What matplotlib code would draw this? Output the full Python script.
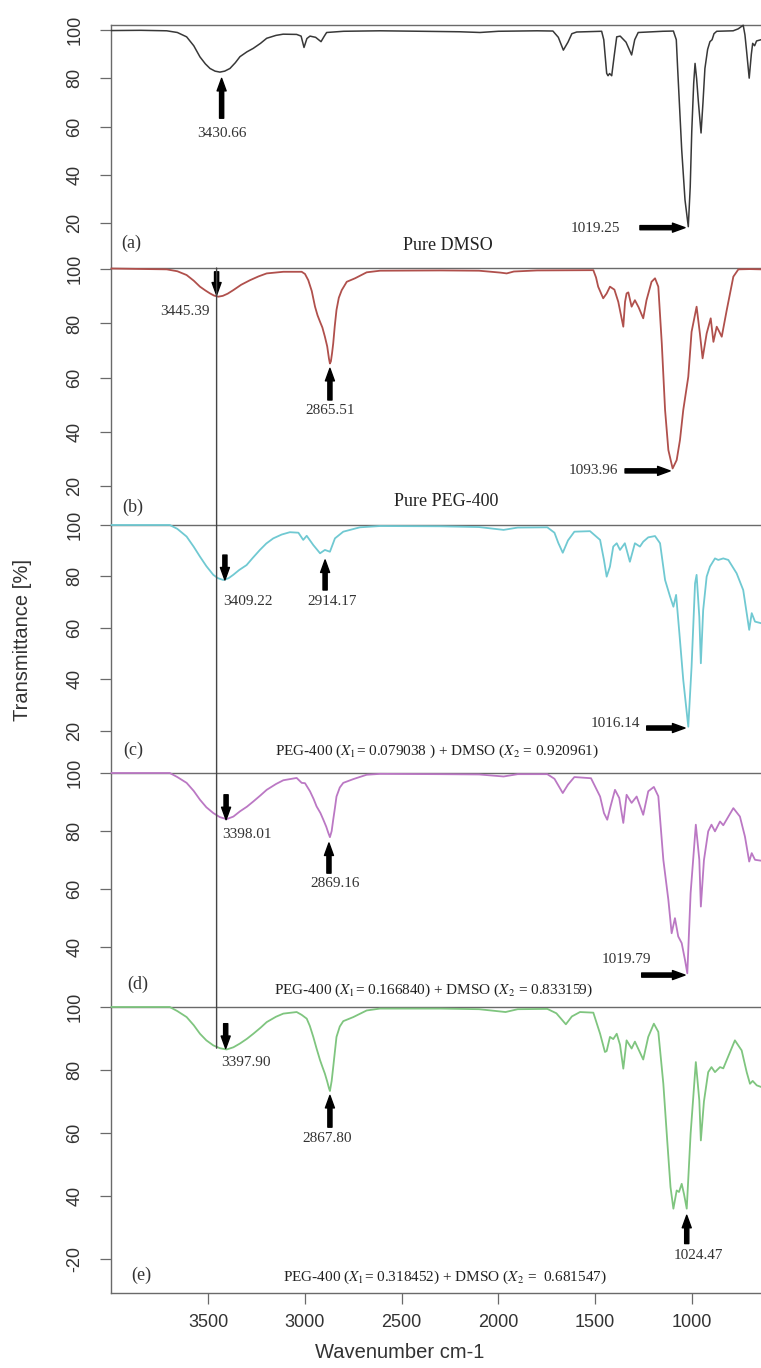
import matplotlib
matplotlib.use('Agg')
import matplotlib.pyplot as plt
from matplotlib.patches import ConnectionPatch

plt.rcParams['mathtext.fontset'] = 'stix'

# ---------------- data ----------------
dmso_wn = [4000, 3850, 3715, 3660, 3612, 3575, 3543, 3515, 3491, 3465, 3440, 3415, 3388, 3360, 3336,
           3300, 3268, 3230, 3198, 3150, 3113, 3043, 3020, 3005,
           2990, 2974, 2945, 2917, 2900, 2888, 2800, 2612, 2400, 2200, 2095, 2000, 1800, 1718, 1690,
           1664, 1640, 1620, 1595, 1466, 1455, 1440, 1433, 1425, 1414, 1400, 1388, 1370, 1340, 1311,
           1295, 1277, 1150, 1095, 1080, 1073, 1052, 1035, 1018, 1008, 1000, 990, 983, 975, 966,
           952, 942, 932, 918, 906, 895, 885, 871, 786, 760, 734, 725, 717, 703, 692, 685, 675, 665, 642]
dmso_t = [99.8, 99.9, 99.7, 99.0, 97.2, 93.5, 88.9, 86.0, 84.1, 83.0, 82.6, 83.0, 84.1, 86.5, 89.0,
          91.0, 92.4, 94.5, 96.6, 97.8, 98.3, 98.2, 97.5, 92.8,
          96.5, 97.5, 97.0, 95.2, 97.5, 99.0, 99.5, 99.7, 99.5, 99.3, 99.0, 99.5, 99.7, 99.6, 97.0,
          91.7, 95.0, 98.5, 99.2, 99.5, 96.0, 82.1, 81.1, 82.0, 81.1, 90.0, 97.2, 97.5, 95.0, 89.7,
          96.0, 99.0, 99.5, 99.6, 96.0, 84.1, 50.4, 29.7, 18.6, 35.0, 58.1, 78.0, 86.2, 80.0, 70.5,
          57.4, 70.0, 84.1, 92.0, 95.2, 96.0, 98.5, 99.5, 99.7, 100.5, 102.0, 98.0, 91.7, 80.1, 90.0,
          94.5, 93.5, 95.5, 96.0]

peg_wn = [4000, 3715, 3660, 3612, 3575, 3543, 3515, 3491, 3470, 3448, 3425, 3400, 3371, 3330, 3284,
          3240, 3198, 3112, 3017, 3000, 2983, 2965, 2948, 2935, 2922, 2910, 2897, 2885, 2876, 2871,
          2866, 2860, 2854, 2846, 2837, 2825, 2810, 2784, 2741, 2681, 2612, 2300, 2100, 1990,
          1957, 1920, 1800, 1509, 1495, 1484, 1458, 1440, 1423, 1400, 1380, 1354, 1345, 1337, 1328,
          1311, 1294, 1275, 1251, 1234, 1208, 1190, 1173, 1155, 1138, 1121, 1099, 1078, 1061, 1044,
          1018, 1001, 975, 958, 944, 923, 902, 888, 871, 858, 845, 819, 785, 759, 700, 642]
peg_t = [100.3, 100.0, 99.3, 97.9, 95.8, 93.6, 92.2, 91.1, 90.3, 89.9, 90.2, 91.0, 92.3, 94.3, 96.0,
         97.4, 98.5, 99.1, 99.1, 98.3, 96.0, 92.0, 86.2, 83.0, 80.6, 78.5, 75.1, 71.5, 67.0, 65.2,
         66.0, 69.0, 72.6, 79.0, 85.0, 89.5, 92.3, 95.4, 96.7, 98.9, 99.5, 99.6, 99.5, 98.8,
         98.5, 99.2, 99.6, 99.7, 97.0, 93.6, 89.3, 91.1, 93.6, 92.5, 88.0, 78.8, 88.0, 91.1, 91.5,
         86.2, 88.6, 86.0, 81.9, 88.6, 95.4, 96.7, 93.6, 72.6, 48.0, 33.2, 26.4, 29.5, 36.9, 48.0,
         60.3, 76.9, 86.2, 76.3, 67.1, 76.3, 81.9, 73.2, 78.8, 77.0, 75.1, 85.0, 97.3, 100.0, 100.1, 100.0]

mix1_wn = [4000, 3699, 3660, 3612, 3575, 3543, 3510, 3474, 3450, 3422, 3395, 3371, 3340, 3302, 3270,
           3233, 3200, 3164, 3120, 3078, 3034, 3009, 2991, 2957,
           2922, 2897, 2871, 2845, 2802, 2716, 2612, 2300, 2100, 1973, 1900, 1747, 1710, 1690, 1667,
           1640, 1607, 1526, 1474, 1454, 1440, 1423, 1406, 1388, 1371, 1346, 1320, 1294, 1268, 1251,
           1225, 1190, 1164, 1138, 1112, 1095, 1081, 1064, 1044, 1018, 1001, 983, 975, 961, 953,
           941, 923, 906, 880, 863, 837, 811, 768, 734, 716, 703, 690, 673, 642]
mix1_t = [100.0, 100.0, 98.5, 95.5, 91.5, 87.7, 84.0, 80.6, 79.3, 78.6, 79.3, 80.6, 82.5, 84.4, 87.2,
          90.3, 92.8, 94.8, 96.3, 97.2, 97.0, 94.2, 95.8, 92.2,
          89.0, 90.3, 89.6, 94.8, 97.4, 99.1, 99.6, 99.5, 99.2, 98.1, 99.0, 99.1, 97.0, 93.0, 89.2,
          94.0, 97.4, 97.6, 94.2, 86.4, 79.9, 83.8, 91.6, 92.9, 90.3, 92.9, 85.7, 92.9, 91.6, 93.5,
          95.2, 95.7, 92.9, 78.6, 72.1, 68.2, 72.8, 57.9, 39.7, 21.5, 44.9, 77.3, 80.6, 64.3, 46.2,
          66.9, 79.9, 83.8, 87.0, 86.4, 87.0, 86.4, 81.2, 74.7, 65.7, 59.2, 65.7, 62.4, 61.8]

mix2_wn = [4000, 3699, 3660, 3612, 3575, 3543, 3510, 3474, 3440, 3405, 3370, 3336, 3300, 3267, 3230,
           3198, 3150, 3112, 3043, 3017, 3000, 2974, 2955, 2940, 2920, 2905, 2890, 2880, 2871, 2862,
           2854, 2845, 2837, 2820, 2802, 2750, 2681, 2612, 2300, 2100, 1973, 1900, 1747, 1710, 1667,
           1640, 1607, 1521, 1474, 1454, 1437, 1420, 1397, 1375, 1354, 1337, 1311, 1285, 1251, 1225,
           1196, 1173, 1147, 1121, 1104, 1087, 1070, 1052, 1035, 1023, 1006, 979, 961, 953, 937,
           915, 898, 880, 854, 837, 785, 751, 725, 703, 690, 673, 642]
mix2_t = [100.0, 100.0, 98.6, 96.6, 93.8, 90.8, 88.2, 86.2, 84.8, 84.1, 85.0, 86.8, 88.4, 90.2, 92.3,
          94.2, 96.2, 97.5, 98.3, 96.6, 96.5, 93.7, 91.0, 88.5, 86.2, 83.9, 81.5, 79.5, 77.9, 80.0,
          83.9, 88.0, 91.9, 95.0, 96.6, 97.9, 99.4, 99.7, 99.6, 99.5, 98.8, 99.6, 99.6, 98.0, 93.1,
          96.0, 98.6, 98.2, 91.9, 86.2, 83.9, 88.5, 94.2, 91.4, 82.8, 92.5, 89.7, 91.9, 85.6, 93.7,
          95.2, 92.0, 70.1, 56.3, 44.8, 50.0, 43.7, 41.4, 35.6, 31.0, 58.6, 82.2, 70.1, 54.0, 70.0,
          79.9, 82.2, 79.9, 83.3, 82.0, 87.9, 85.0, 78.1, 69.5, 72.4, 70.1, 69.8]

mix3_wn = [4000, 3699, 3660, 3612, 3575, 3543, 3510, 3474, 3440, 3405, 3370, 3336, 3300, 3267, 3230,
           3198, 3150, 3112, 3043, 3017, 2991, 2975, 2957, 2940, 2922, 2910, 2897, 2885, 2876, 2871,
           2862, 2854, 2845, 2837, 2820, 2802, 2750, 2681, 2612, 2300, 2100, 1963, 1900, 1747, 1700,
           1651, 1620, 1578, 1509, 1474, 1449, 1440, 1423, 1406, 1388, 1371, 1354, 1337, 1311, 1294,
           1251, 1225, 1196, 1173, 1147, 1127, 1110, 1095, 1078, 1066, 1052, 1040, 1026, 1006, 979,
           961, 953, 937, 915, 898, 880, 854, 837, 777, 742, 716, 699, 685, 664, 642]
mix3_t = [100.0, 100.0, 98.7, 96.8, 94.2, 91.5, 89.4, 87.8, 86.9, 86.5, 87.2, 88.4, 89.9, 91.5, 93.4,
          95.2, 96.9, 97.9, 98.4, 97.5, 96.3, 94.0, 90.5, 86.8, 83.1, 81.0, 78.8, 76.3, 74.2, 73.3,
          76.5, 80.9, 86.0, 90.5, 93.8, 95.5, 96.8, 98.9, 99.5, 99.5, 99.3, 98.4, 99.3, 99.4, 98.0,
          94.5, 97.0, 98.4, 98.2, 91.5, 85.7, 86.0, 90.5, 89.8, 91.5, 88.0, 80.4, 89.4, 86.8, 89.0,
          83.3, 90.5, 94.7, 92.1, 75.6, 57.6, 42.8, 35.9, 41.7, 41.2, 43.8, 40.5, 35.9, 59.7, 82.5,
          70.3, 57.6, 70.0, 79.3, 80.9, 79.3, 80.9, 80.5, 89.4, 86.2, 79.3, 75.6, 76.5, 75.1, 74.6]

panel_letters = ['(a)', '(b)', '(c)', '(d)', '(e)']
panel_titles = ['Pure DMSO', 'Pure PEG-400',
                r'PEG-400 ($X_1$= 0.079038 ) + DMSO ($X_2$ = 0.920961)',
                r'PEG-400 ($X_1$= 0.166840) + DMSO ($X_2$ = 0.833159)',
                r'PEG-400 ($X_1$= 0.318452) + DMSO ($X_2$ =  0.681547)']
x_ticks = [3500, 3000, 2500, 2000, 1500, 1000]
y_ticks = [[20, 40, 60, 80, 100], [20, 40, 60, 80, 100], [20, 40, 60, 80, 100],
           [40, 60, 80, 100], [20, 40, 60, 80, 100]]
y_ticklabels = [['20', '40', '60', '80', '100'], ['20', '40', '60', '80', '100'],
                ['20', '40', '60', '80', '100'], ['40', '60', '80', '100'],
                ['-20', '40', '60', '80', '100']]

# peak annotations: (label, label_wn, label_t, tail_wn, tail_t, head_wn, head_t)
peaks_a = [('3430.66', 3431, 57.3, 3431, 63.5, 3431, 80.0),
           ('1019.25', 1497, 18.0, 1268, 18.2, 1035, 18.2)]
peaks_b = [('3445.39', 3620, 84.3, 3457, 99.1, 3457, 90.5),
           ('2865.51', 2870, 48.0, 2871, 51.7, 2871, 63.4),
           ('1093.96', 1509, 25.5, 1345, 25.5, 1112, 25.5)]
peaks_c = [('3409.22', 3293, 70.2, 3414, 88.3, 3414, 78.6),
           ('2914.17', 2862, 70.2, 2896, 74.7, 2896, 86.4),
           ('1016.14', 1397, 22.7, 1233, 21.0, 1035, 21.0)]
peaks_d = [('3398.01', 3301, 78.7, 3408, 92.5, 3408, 83.9),
           ('2869.16', 2845, 62.1, 2876, 65.5, 2876, 75.9),
           ('1019.79', 1340, 35.6, 1259, 30.4, 1035, 30.4)]
peaks_e = [('3397.90', 3307, 82.5, 3410, 94.7, 3410, 86.8),
           ('2867.80', 2883, 58.2, 2871, 61.8, 2871, 71.9),
           ('1024.47', 968, 21.1, 1026, 24.8, 1026, 33.8)]

# ---------------- layout ----------------
W, H = 761, 1368
fig = plt.figure(figsize=(W / 100, H / 100), dpi=100)
edges_px = [25, 268, 525, 773, 1007, 1293]
ylims = [(1.5, 102.1), (5.5, 100.5), (3.5, 100.0), (19.4, 100.0), (9.1, 100.0)]
letter_pos = [(3896, 11.7), (3888, 12.2), (3888, 12.5), (3866, 27.3), (3844, 14.6)]
title_pos = [(2263, 10.7), (2272, 14.1), (2316, 12.0), (2336, 25.3), (2274, 14.1)]
title_sizes = [13, 13, 11, 11, 11]
colors = ['#383838', '#b0504c', '#70c9d2', '#bb78c4', '#7fc57f']
widths = [1.1, 1.3, 1.3, 1.3, 1.3]
series = [(dmso_wn, dmso_t), (peg_wn, peg_t), (mix1_wn, mix1_t), (mix2_wn, mix2_t), (mix3_wn, mix3_t)]
peaks = [peaks_a, peaks_b, peaks_c, peaks_d, peaks_e]

left = 111 / W
axes = []
serif = 'Liberation Serif'
sans = 'Liberation Sans'
arrow_style = 'simple,head_width=0.65,head_length=0.9,tail_width=0.3'
for i in range(5):
    top, bot = edges_px[i], edges_px[i + 1]
    ax = fig.add_axes([left, 1 - bot / H, 1 - left, (bot - top) / H],
                      sharex=axes[0] if axes else None)
    axes.append(ax)
    wn, t = series[i]
    ax.plot(wn, t, color=colors[i], lw=widths[i], solid_joinstyle='round', zorder=3,
            clip_on=False)
    ax.set_xlim(4003, 642)
    ax.set_ylim(*ylims[i])
    ax.spines['right'].set_visible(False)
    for s in ['top', 'left', 'bottom']:
        ax.spines[s].set_color('#6a6a6a')
        ax.spines[s].set_linewidth(1.0)
        ax.spines[s].set_zorder(2)
    if i < 4:
        ax.spines['bottom'].set_visible(False)
        ax.tick_params(axis='x', bottom=False, labelbottom=False)
    ax.set_yticks(y_ticks[i])
    ax.set_yticklabels(y_ticklabels[i], rotation=90, va='center', family=sans)
    ax.tick_params(axis='y', direction='out', length=8, width=0.9, color='#6a6a6a',
                   labelsize=13, labelcolor='#333333', pad=12)
    ax.text(*letter_pos[i], panel_letters[i], family=serif, fontsize=13, ha='center', va='center',
            color='#333333')
    ax.text(*title_pos[i], panel_titles[i], family=serif, fontsize=title_sizes[i], ha='center',
            va='center', color='#222222')
    for lab, lx, ly, tx, ty, hx, hy in peaks[i]:
        ax.annotate('', xy=(hx, hy), xytext=(tx, ty),
                    arrowprops=dict(arrowstyle=arrow_style, mutation_scale=10, color='black',
                                    shrinkA=0, shrinkB=0))
        ax.text(lx, ly, lab, family=serif, fontsize=11, ha='center', va='center', color='#333333')

ax_e = axes[4]
ax_e.set_xticks(x_ticks)
ax_e.set_xticklabels([str(v) for v in x_ticks], family=sans)
ax_e.tick_params(axis='x', direction='out', length=8, width=0.9, color='#6a6a6a',
                 labelsize=13, labelcolor='#333333', pad=7)

con = ConnectionPatch(xyA=(3457, 100.5), coordsA=axes[1].transData,
                      xyB=(3457, 86.9), coordsB=axes[4].transData,
                      color='#444444', lw=1.0)
fig.add_artist(con)

fig.text(23 / W, 1 - 640 / H, 'Transmittance [%]', rotation=90, ha='center', va='center',
         family=sans, fontsize=14.5, color='#333333')
fig.text(400 / W, 1 - 1352 / H, 'Wavenumber cm-1', ha='center', va='center',
         family=sans, fontsize=14.5, color='#333333')

fig.savefig('out.png', dpi=100)
